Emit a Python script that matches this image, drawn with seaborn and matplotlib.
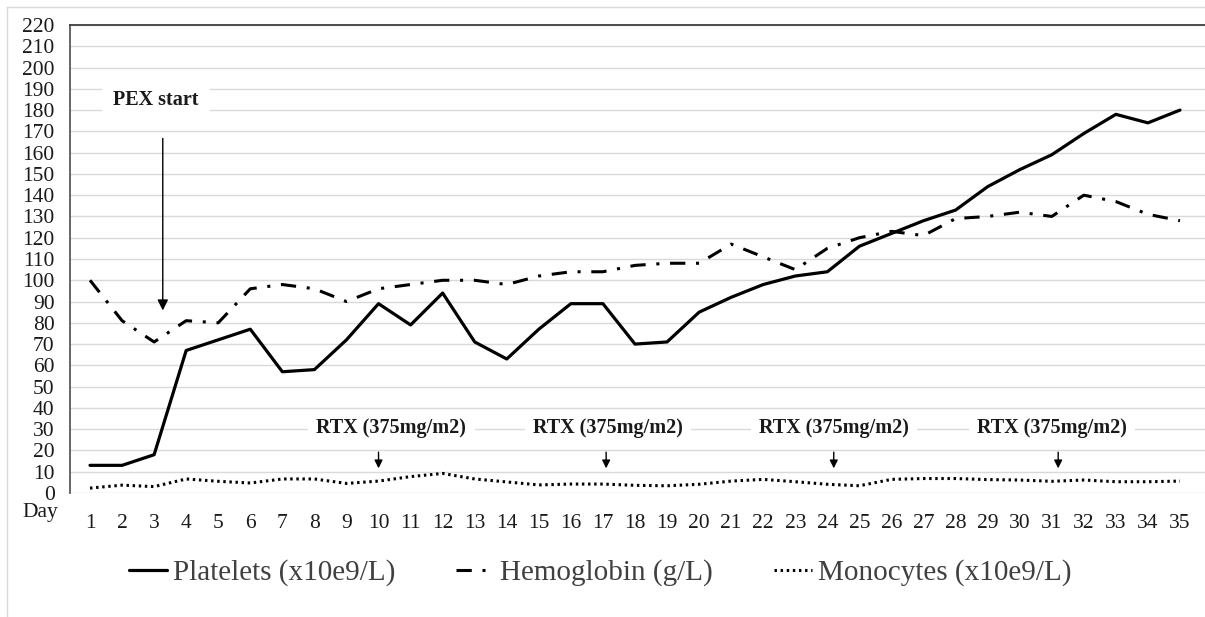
import numpy as np
import pandas as pd
import matplotlib
matplotlib.use('Agg')
import matplotlib.pyplot as plt
from matplotlib.lines import Line2D
import seaborn as sns

# data
days = list(range(1, 36))
platelets = [13, 13, 18, 67, 72, 77, 57, 58, 72, 89, 79, 94, 71, 63, 77, 89, 89,
             70, 71, 85, 92, 98, 102, 104, 116, 122, 128, 133, 144, 152, 159, 169,
             178, 174, 180]
hemoglobin = [100, 81, 71, 81, 80, 96, 98, 96, 90, 96, 98, 100, 100, 98, 102, 104,
              104, 107, 108, 108, 117, 111, 105, 115, 120, 123, 121, 129, 130, 132,
              130, 140, 137, 131, 128]
monocytes = [2.3, 3.7, 3, 6.6, 5.5, 4.7, 6.6, 6.6, 4.5, 5.6, 7.7, 9.2, 6.6, 5.2,
             3.8, 4.2, 4.2, 3.6, 3.4, 4.1, 5.6, 6.4, 5.3, 4.1, 3.4, 6.4, 6.8, 6.8,
             6.3, 6.1, 5.5, 6.1, 5.3, 5.3, 5.6]
series_names = ['Platelets (x10e9/L)', 'Hemoglobin (g/L)', 'Monocytes (x10e9/L)']
rtx_days = [10, 17.1, 24.2, 31.2]
rtx_label_days = [10.4, 17.15, 24.2, 31.0]
rtx_label = 'RTX (375mg/m2)'
pex_day = 3.27
yticks = list(range(0, 221, 10))

sns.set_style('white')
plt.rcParams['font.family'] = ['Liberation Serif', 'DejaVu Serif']

fig = plt.figure(figsize=(12.05, 6.17), dpi=100)
ax = fig.add_axes([70 / 1205, 124 / 617, 1135 / 1205, 468 / 617])

sns.lineplot(x=days, y=platelets, color='black', lw=2.3, ax=ax,
             label=series_names[0], legend=False)
sns.lineplot(x=days, y=hemoglobin, color='black', lw=2.2, ax=ax,
             linestyle=(0, (5, 3.5, 1, 3.5)), label=series_names[1], legend=False)
sns.lineplot(x=days, y=monocytes, color='black', lw=2.2, ax=ax,
             linestyle=(0, (0.8, 1.2)), label=series_names[2], legend=False)

ax.set_xlim(0.376, 35.78)
ax.set_ylim(0, 220)
ax.set_yticks(yticks)
ax.set_xticks(days)
ax.set_xticklabels([str(d) for d in days])
ax.yaxis.grid(True, color='#d9d9d9', lw=1)
ax.set_axisbelow(True)
ax.tick_params(axis='y', length=0, pad=11, labelsize=15.5, labelcolor='#1a1a1a')
ax.tick_params(axis='x', length=0, pad=15, labelsize=15.5, labelcolor='#1a1a1a')
ax.set_xlabel('')
ax.set_ylabel('')
for s in ['right', 'bottom']:
    ax.spines[s].set_visible(False)
ax.spines['left'].set_color('#595959')
ax.spines['left'].set_linewidth(1.3)
ax.spines['top'].set_color('#404040')
ax.spines['top'].set_linewidth(1.3)

# annotations
ax.text(3.06, 184.8, 'PEX start', ha='center', va='center', fontsize=14.5,
        fontweight='bold', color='#1a1a1a',
        bbox=dict(facecolor='white', edgecolor='none', pad=8))
ax.annotate('', xy=(pex_day, 84.5), xytext=(pex_day, 168),
            arrowprops=dict(arrowstyle='-|>', color='black', lw=1,
                            mutation_scale=16))
for d, ld in zip(rtx_days, rtx_label_days):
    ax.text(ld, 30.4, rtx_label, ha='center', va='center', fontsize=14.5,
            fontweight='bold', color='#1a1a1a',
            bbox=dict(facecolor='white', edgecolor='none', pad=6))
    ax.annotate('', xy=(d, 10.3), xytext=(d, 20.5),
                arrowprops=dict(arrowstyle='-|>', color='black', lw=1,
                                mutation_scale=12))

fig.text(40 / 1205, 1 - 513 / 617, 'Day', ha='center', va='center',
         fontsize=15.5, color='#1a1a1a')

# outer chart border (left and top only; picture is cropped on the right)
fig.add_artist(Line2D([7 / 1205, 7 / 1205], [0, 1 - 7 / 617],
                      transform=fig.transFigure, color='#d9d9d9', lw=1))
fig.add_artist(Line2D([7 / 1205, 1], [1 - 7 / 617, 1 - 7 / 617],
                      transform=fig.transFigure, color='#d9d9d9', lw=1))

handles, labels = ax.get_legend_handles_labels()
leg = fig.legend(handles, labels, loc='center', ncol=3,
                 bbox_to_anchor=(600 / 1205, 1 - 573 / 617), frameon=False,
                 fontsize=21, handlelength=1.3, handletextpad=0.2,
                 columnspacing=2.1)
for t in leg.get_texts():
    t.set_color('#404040')

fig.savefig('out.png', dpi=100, facecolor='white')
